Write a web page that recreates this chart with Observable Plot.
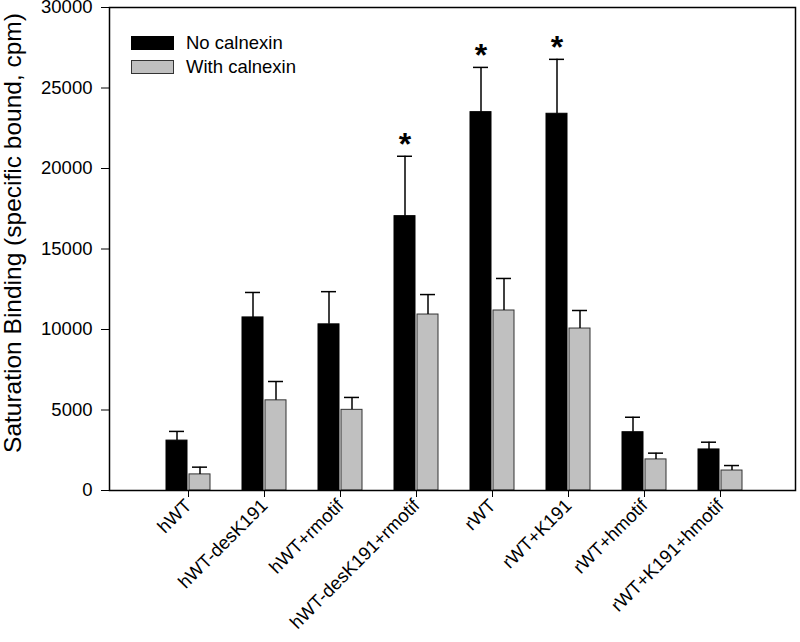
<!DOCTYPE html>
<html><head><meta charset="utf-8">
<script src="https://cdn.jsdelivr.net/npm/d3@7"></script>
<script src="https://cdn.jsdelivr.net/npm/@observablehq/plot@0.6"></script>
<style>
body{margin:0;background:#fff;font-family:Arial,"Liberation Sans",sans-serif}
#wrap{position:relative;width:800px;height:642px}
.sw{position:absolute;left:131px;width:43px;height:14px;box-sizing:border-box}
.lt{position:absolute;left:186px;font-size:18.5px;line-height:18px;color:#000}
</style></head><body><div id="wrap"></div>
<script>
const categories = ["hWT","hWT-desK191","hWT+rmotif","hWT-desK191+rmotif","rWT","rWT+K191","rWT+hmotif","rWT+K191+hmotif"];
const noCalnexin = [3100, 10750, 10320, 17040, 23500, 23400, 3620, 2550];
const noErr = [570, 1550, 2030, 3720, 2780, 3380, 930, 450];
const withCalnexin = [1000, 5600, 5010, 10930, 11180, 10060, 1930, 1240];
const withErr = [450, 1170, 770, 1240, 1990, 1120, 390, 310];
const significant = [false, false, false, true, true, true, false, false];
const yTicks = [0, 5000, 10000, 15000, 20000, 25000, 30000];
const seriesNames = ["No calnexin", "With calnexin"];
const yLabel = "Saturation Binding (specific bound, cpm)";

const black = categories.map((c,i)=>({cat:c, v:noCalnexin[i], e:noErr[i], sig:significant[i]}));
const gray = categories.map((c,i)=>({cat:c, v:withCalnexin[i], e:withErr[i]}));

const chart = Plot.plot({
  width:800, height:642, marginTop:7, marginBottom:152, marginLeft:109, marginRight:5,
  style:{fontFamily:"Arial, 'Liberation Sans', sans-serif", fontSize:"18px", background:"white", color:"black", overflow:"visible"},
  x:{type:"band", domain:categories, paddingInner:0.427, paddingOuter:0.682, align:0.52, label:null},
  y:{domain:[0,30000], label:null},
  marks:[
    Plot.barY(black, {x:"cat", y:"v", fill:"black", stroke:"black", insetRight:23}),
    Plot.barY(gray, {x:"cat", y:"v", fill:"#c0c0c0", stroke:"#333", strokeWidth:1, insetLeft:23}),
    Plot.ruleX(black, {x:"cat", y1:"v", y2:d=>d.v+d.e, dx:-11.5, strokeWidth:1.5, stroke:"black"}),
    Plot.ruleX(gray, {x:"cat", y1:"v", y2:d=>d.v+d.e, dx:11.5, strokeWidth:1.5, stroke:"black"}),
    Plot.tickY(black, {x:"cat", y:d=>d.v+d.e, insetLeft:3, insetRight:26, strokeWidth:1.5, stroke:"black"}),
    Plot.tickY(gray, {x:"cat", y:d=>d.v+d.e, insetLeft:26, insetRight:3, strokeWidth:1.5, stroke:"black"}),
    Plot.text(black.filter(d=>d.sig), {x:"cat", y:d=>d.v+d.e, text:()=>"*", dx:-11.5, dy:-12, fontSize:32, fontWeight:"bold", fill:"black"}),
    Plot.axisY({ticks:yTicks, tickSize:8, tickPadding:9, tickFormat:"d", label:null}),
    Plot.axisX({tickSize:7, tickRotate:-45, tickPadding:5, label:null}),
    Plot.frame({stroke:"black", strokeWidth:1.5})
  ]
});
const wrap = document.getElementById("wrap");
wrap.appendChild(chart);
chart.querySelectorAll("g[aria-label*='tick label'] text").forEach(t => { t.setAttribute("font-size", "18.5"); t.style.fontSize = "18.5px"; });
d3.select(chart).append("text")
  .attr("transform", "translate(21,233) rotate(-90)")
  .attr("text-anchor", "middle")
  .attr("font-size", 24.5)
  .attr("fill", "black")
  .text(yLabel);
const swatchColors = ["#000", "#c0c0c0"];
const swTops = [36, 60];
seriesNames.forEach((name,i)=>{
  const s = document.createElement("div");
  s.className = "sw";
  s.style.top = swTops[i] + "px";
  s.style.background = swatchColors[i];
  s.style.border = "1px solid " + (i ? "#333" : "#000");
  wrap.appendChild(s);
  const t = document.createElement("div");
  t.className = "lt";
  t.style.top = (swTops[i] - 2) + "px";
  t.textContent = name;
  wrap.appendChild(t);
});
</script></body></html>
